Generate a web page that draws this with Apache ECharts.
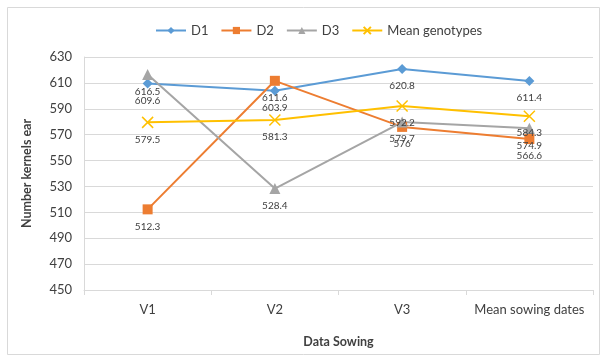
<!DOCTYPE html>
<html>
<head>
<meta charset="utf-8">
<script src="https://cdn.jsdelivr.net/npm/echarts@6/dist/echarts.min.js"></script>
<style>
  html, body { margin: 0; padding: 0; background: #fff; }
  #chart { width: 606px; height: 358px; }
</style>
</head>
<body>
<div id="chart"></div>
<script>
// Sowing dates on the category axis
const categories = ['V1', 'V2', 'V3', 'Mean sowing dates'];

// Number of kernels per ear for each density
const d1 = [609.6, 603.9, 620.8, 611.4];
const d2 = [512.3, 611.6, 576, 566.6];
const d3 = [616.5, 528.4, 579.7, 574.9];
const meanGenotypes = [579.5, 581.3, 592.2, 584.3];

// Value axis ticks
const yMin = 450, yMax = 630, yStep = 20;

const FONT = 'Lato, "Open Sans", sans-serif';
const crossPath = 'path://M0,0L10,10M10,0L0,10';

function makeSeries(name, data, color, symbol, size, extraItem) {
  return {
    name: name,
    type: 'line',
    data: data,
    symbol: symbol,
    symbolSize: size,
    showAllSymbol: true,
    lineStyle: { color: color, width: 2 },
    itemStyle: Object.assign({ color: color }, extraItem || {}),
    label: {
      show: true,
      position: 'inside',
      offset: [0, 17],
      color: '#404040',
      fontFamily: FONT,
      fontSize: 10,
      formatter: p => String(p.value)
    },
    emphasis: { disabled: true },
    animation: false
  };
}

const chart = echarts.init(document.getElementById('chart'), null, { renderer: 'canvas' });
chart.setOption({
  backgroundColor: '#fff',
  animation: false,
  graphic: [{
    type: 'rect',
    shape: { x: 7.5, y: 7.5, width: 592, height: 347 },
    style: { fill: 'none', stroke: '#d9d9d9', lineWidth: 1 },
    silent: true,
    z: -1
  }],
  legend: {
    top: 19,
    left: 150,
    itemWidth: 30,
    itemHeight: 9,
    itemGap: 12,
    textStyle: { fontFamily: FONT, fontSize: 13, color: '#404040' },
    data: ['D1', 'D2', 'D3', 'Mean genotypes']
  },
  grid: { left: 84, right: 13, top: 57, bottom: 68, containLabel: false },
  xAxis: {
    type: 'category',
    data: categories,
    boundaryGap: true,
    name: 'Data Sowing',
    nameLocation: 'middle',
    nameGap: 45,
    nameTextStyle: { fontFamily: FONT, fontSize: 12.5, fontWeight: 'bold', color: '#404040' },
    axisLine: { lineStyle: { color: '#d9d9d9', width: 1 } },
    axisTick: { show: true, length: 5, alignWithLabel: false, interval: 0, lineStyle: { color: '#d9d9d9' } },
    axisLabel: { interval: 0, fontFamily: FONT, fontSize: 13, color: '#404040', margin: 13 },
    splitLine: { show: false }
  },
  yAxis: {
    type: 'value',
    min: yMin,
    max: yMax,
    interval: yStep,
    name: 'Number kernels ear',
    nameLocation: 'middle',
    nameGap: 51,
    nameTextStyle: { fontFamily: FONT, fontSize: 12.5, fontWeight: 'bold', color: '#404040' },
    axisLine: { show: true, lineStyle: { color: '#d9d9d9', width: 1 } },
    axisTick: { show: false },
    axisLabel: { fontFamily: FONT, fontSize: 13, color: '#404040', margin: 12 },
    splitLine: { show: true, lineStyle: { color: '#d9d9d9', width: 1 } }
  },
  series: [
    makeSeries('D1', d1, '#5b9bd5', 'diamond', 10),
    makeSeries('D2', d2, '#ed7d31', 'rect', 10),
    makeSeries('D3', d3, '#a5a5a5', 'triangle', 11),
    makeSeries('Mean genotypes', meanGenotypes, '#ffc000', crossPath, 11,
      { borderColor: '#ffc000', borderWidth: 1.5 })
  ]
});
</script>
</body>
</html>
